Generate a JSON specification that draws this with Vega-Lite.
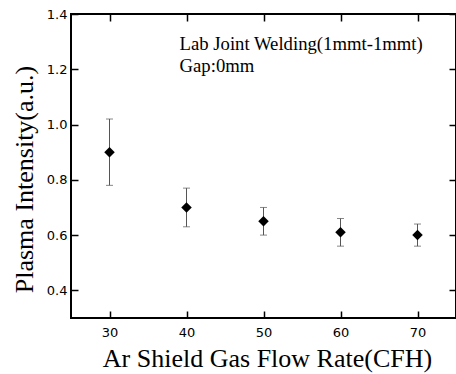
{
  "$schema": "https://vega.github.io/schema/vega-lite/v6.json",
  "width": 385,
  "height": 304,
  "autosize": {"type": "none"},
  "padding": {"left": 71, "top": 14, "right": 0, "bottom": 56},
  "background": "white",
  "config": {
    "view": {"stroke": "black", "strokeWidth": 2},
    "axis": {"grid": false, "domain": false, "labelColor": "black", "titleColor": "black", "labelFont": "DejaVu Sans", "labelFontSize": 13, "titleFont": "Liberation Serif", "titleFontWeight": "normal", "titleFontSize": 26}
  },
  "data": {"values": [
    {"flow": 30, "intensity": 0.90, "lo": 0.78, "hi": 1.02},
    {"flow": 40, "intensity": 0.70, "lo": 0.63, "hi": 0.77},
    {"flow": 50, "intensity": 0.65, "lo": 0.60, "hi": 0.70},
    {"flow": 60, "intensity": 0.61, "lo": 0.56, "hi": 0.66},
    {"flow": 70, "intensity": 0.60, "lo": 0.56, "hi": 0.64}
  ]},
  "resolve": {"axis": {"x": "independent", "y": "independent"}},
  "layer": [
    {
      "mark": {"type": "errorbar", "ticks": {"color": "#555", "size": 7}, "rule": {"color": "#555", "strokeWidth": 1}},
      "encoding": {
        "x": {"field": "flow", "type": "quantitative", "scale": {"domain": [25, 75], "nice": false, "zero": false},
              "axis": {"orient": "bottom", "values": [30, 40, 50, 60, 70], "ticks": true, "tickSize": 7, "tickWidth": 1.5, "tickColor": "black", "offset": -7, "zindex": 2, "labelPadding": 8, "title": "Ar Shield Gas Flow Rate(CFH)", "titlePadding": 6, "titleX": 196}},
        "y": {"field": "lo", "type": "quantitative", "scale": {"domain": [0.3, 1.4], "nice": false, "zero": false},
              "axis": {"orient": "left", "values": [0.4, 0.6, 0.8, 1.0, 1.2, 1.4], "ticks": true, "tickSize": 7, "tickWidth": 1.5, "tickColor": "black", "offset": -7, "zindex": 2, "format": ".1f", "labelPadding": 4, "title": "Plasma Intensity(a.u.)", "titlePadding": 9, "titleY": 165}},
        "y2": {"field": "hi"}
      }
    },
    {
      "mark": {"type": "point", "shape": "diamond", "filled": true, "color": "black", "opacity": 1, "size": 110},
      "encoding": {
        "x": {"field": "flow", "type": "quantitative", "axis": {"orient": "top", "values": [30, 40, 50, 60, 70], "ticks": true, "tickSize": 7, "tickWidth": 1.5, "tickColor": "black", "offset": -7, "zindex": 2, "labels": false, "title": null}},
        "y": {"field": "intensity", "type": "quantitative", "axis": {"orient": "right", "values": [0.4, 0.6, 0.8, 1.0, 1.2, 1.4], "ticks": true, "tickSize": 7, "tickWidth": 1.5, "tickColor": "black", "offset": -7, "zindex": 2, "labels": false, "title": null}}
      }
    },
    {
      "data": {"values": [
        {"x": 39.1, "y": 1.270, "label": "Lab Joint Welding(1mmt-1mmt)"},
        {"x": 39.1, "y": 1.191, "label": "Gap:0mm"}
      ]},
      "mark": {"type": "text", "align": "left", "baseline": "alphabetic", "font": "Liberation Serif", "fontSize": 18.7, "color": "black"},
      "encoding": {
        "x": {"field": "x", "type": "quantitative", "axis": null},
        "y": {"field": "y", "type": "quantitative", "axis": null},
        "text": {"field": "label"}
      }
    }
  ]
}
